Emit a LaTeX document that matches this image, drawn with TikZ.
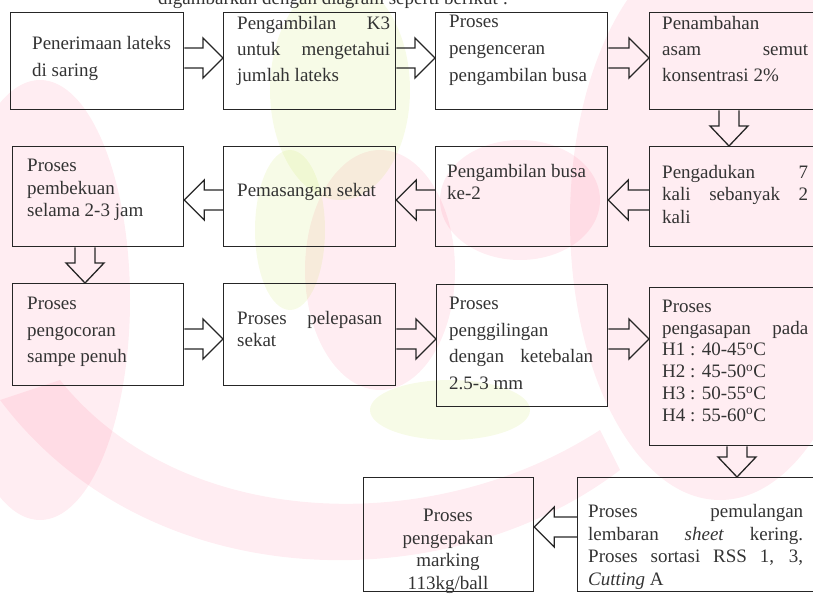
\documentclass[tikz,border=0pt]{standalone}
\usepackage{fontspec}
\setmainfont{Liberation Serif}
\usetikzlibrary{calc}
\tikzset{
  box/.style={draw=black!85, line width=1.3pt, anchor=north west, inner sep=0pt},
  txt/.style={font=\fontsize{19}{#1}\selectfont, inner sep=0pt, anchor=base west,
              align=justify, text=black!80},
  barrow/.style={draw=black!85, line width=1.3pt, line join=miter},
  wmred/.style={fill=red!75!magenta, fill opacity=0.07},
  wmgreen/.style={fill=yellow!70!green, fill opacity=0.10},
}
% right-pointing block arrow from #1 to #2 at level #3
\newcommand\arrR[3]{\draw[barrow] ($(#1.east|-#3)+(0,-10)$) -- ($(#2.west|-#3)+(-20,-10)$)
  -- ++(0,-10) -- (#2.west|-#3) -- ++(-20,20) -- ++(0,-10) -- ($(#1.east|-#3)+(0,10)$);}
% left-pointing block arrow from #1 to #2 at level #3
\newcommand\arrL[3]{\draw[barrow] ($(#1.west|-#3)+(0,-10)$) -- ($(#2.east|-#3)+(20,-10)$)
  -- ++(0,-10) -- (#2.east|-#3) -- ++(20,20) -- ++(0,-10) -- ($(#1.west|-#3)+(0,10)$);}
% down-pointing block arrow from #1 to #2 at column #3
\newcommand\arrD[3]{\draw[barrow] ($(#1.south-|#3)+(-10,0)$) -- ($(#2.north-|#3)+(-10,-20)$)
  -- ++(-9,0) -- (#2.north-|#3) -- ++(19,-20) -- ++(-9,0) -- ($(#1.south-|#3)+(10,0)$);}
\begin{document}
\begin{tikzpicture}[x=1pt,y=-1pt]
\useasboundingbox (0,0) rectangle (813,594);
% faint watermark
\fill[wmred] (720,220) ellipse [x radius=150, y radius=280];
\fill[wmred] (40,300) ellipse [x radius=90, y radius=220];
\fill[wmred] (0,400) .. controls (150,600) and (450,600) .. (620,470) -- (600,430) .. controls (430,540) and (180,530) .. (60,380) -- cycle;
\fill[wmred] (380,270) ellipse [x radius=75, y radius=120];
\fill[wmred] (520,200) ellipse [x radius=80, y radius=60];
\fill[wmgreen] (340,90) ellipse [x radius=70, y radius=110];
\fill[wmgreen] (290,230) ellipse [x radius=35, y radius=80];
\fill[wmgreen] (450,410) ellipse [x radius=80, y radius=30];
% caption (cut off at top, as in the source)
\node[font=\fontsize{19}{23}\selectfont, anchor=base west, inner sep=0pt, text=black!80] (cap) at (158,5) {digambarkan dengan diagram seperti berikut :};
% level coordinates
\coordinate (r1) at (0,58);
\coordinate (r2) at (0,200);
\coordinate (r3) at (0,339);
\coordinate (r4) at (0,527);
\coordinate (c1) at (729,0);
\coordinate (c2) at (85,0);
\coordinate (c3) at (737,0);
% row 1
\node[box, minimum width=173pt, minimum height=97pt] (b1) at (10,12) {};
\node[box, minimum width=172pt, minimum height=97pt] (b2) at (223,12) {};
\node[box, minimum width=172pt, minimum height=97pt] (b3) at (435,12) {};
\node[box, minimum width=180pt, minimum height=97pt] (b4) at (649,12) {};
\node[txt=27, text width=145pt] (t1) at (32,49) {Penerimaan lateks\\ di saring};
\node[txt=26, text width=153pt] (t2) at (237,30) {Pengambilan K3\linebreak untuk mengetahui\linebreak jumlah lateks};
\node[txt=27, text width=145pt] (t3) at (449,28) {Proses\\ pengenceran\\ pengambilan busa};
\node[txt=26, text width=146pt] (t4) at (662,30) {Penambahan\\ asam semut\linebreak konsentrasi 2\%};
% row 2
\node[box, minimum width=171pt, minimum height=100pt] (b6) at (12,146) {};
\node[box, minimum width=172pt, minimum height=100pt] (b7) at (223,146) {};
\node[box, minimum width=172pt, minimum height=100pt] (b8) at (435,146) {};
\node[box, minimum width=180pt, minimum height=100pt] (b5) at (649,146) {};
\node[txt=22.5, text width=150pt] (t6) at (27,171.5) {Proses\\ pembekuan\\ selama 2-3 jam};
\node[txt=22, text width=150pt] (t7) at (237,196.5) {Pemasangan sekat};
\node[txt=22, text width=150pt] (t8) at (447,177.5) {Pengambilan busa\\ ke-2};
\node[txt=22.5, text width=146pt] (t5) at (662,178) {Pengadukan 7\linebreak kali sebanyak 2\linebreak kali};
% row 3
\node[box, minimum width=171pt, minimum height=102pt] (b9) at (12,283) {};
\node[box, minimum width=172pt, minimum height=102pt] (b10) at (223,283) {};
\node[box, minimum width=171pt, minimum height=122pt] (b11) at (436,284) {};
\node[box, minimum width=180pt, minimum height=158pt] (b12) at (649,287) {};
\node[txt=26.5, text width=150pt] (t9) at (27,309.5) {Proses\\ pengocoran\\ sampe penuh};
\node[txt=22, text width=145pt] (t10) at (237,324.5) {Proses pelepasan\linebreak sekat};
\node[txt=26.5, text width=144pt] (t11) at (449,309.5) {Proses\\ penggilingan\\ dengan ketebalan\linebreak 2.5-3 mm};
\node[txt=21.7, text width=146pt] (t12) at (662,312.5) {Proses\\ pengasapan pada\linebreak
  H1 : 40-45\textsuperscript{o}C\\ H2 : 45-50\textsuperscript{o}C\\ H3 : 50-55\textsuperscript{o}C\\ H4 : 55-60\textsuperscript{o}C};
% row 4
\node[box, minimum width=170pt, minimum height=114pt] (b14) at (363,477) {};
\node[box, minimum width=250pt, minimum height=114pt] (b13) at (577,477) {};
\node[txt=22.5, text width=160pt, anchor=base, align=center] (t14) at (448,521.5) {Proses\\ pengepakan\\ marking\\ 113kg/ball};
\node[txt=22.5, text width=215pt] (t13) at (588,517.5) {Proses pemulangan\linebreak lembaran \textit{sheet} kering.\linebreak Proses sortasi RSS 1, 3,\linebreak \textit{Cutting} A};
% connectors
\arrR{b1}{b2}{r1}
\arrR{b2}{b3}{r1}
\arrR{b3}{b4}{r1}
\arrD{b4}{b5}{c1}
\arrL{b5}{b8}{r2}
\arrL{b8}{b7}{r2}
\arrL{b7}{b6}{r2}
\arrD{b6}{b9}{c2}
\arrR{b9}{b10}{r3}
\arrR{b10}{b11}{r3}
\arrR{b11}{b12}{r3}
\arrD{b12}{b13}{c3}
\arrL{b13}{b14}{r4}
\end{tikzpicture}
\end{document}
